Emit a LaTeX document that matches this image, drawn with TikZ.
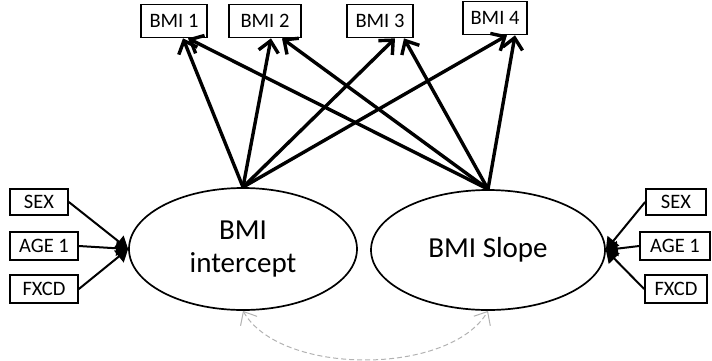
\documentclass[tikz,border=0pt]{standalone}
\usepackage{fontspec}
\setmainfont{Carlito}
\usetikzlibrary{arrows.meta,calc,shapes.geometric}
\tikzset{
  obs/.style={draw, line width=1.7pt, minimum height=33pt, inner sep=1pt, font=\fontsize{20.5}{23}\selectfont},
  latent/.style={draw, ellipse, line width=1.7pt, inner sep=0pt, align=center, font=\fontsize{29}{33}\selectfont},
  load/.style={line width=3.4pt, -{Straight Barb[length=11pt,width=20pt,line width=3.4pt]}},
  cov/.style={line width=2pt, -{Triangle[length=12pt,width=15pt]}},
  corr/.style={draw=gray!60, line width=1pt, dash pattern=on 5pt off 3pt,
    {Straight Barb[length=11pt,width=19pt,line width=1pt]}-{Straight Barb[length=11pt,width=19pt,line width=1pt]}}
}
\begin{document}
\begin{tikzpicture}[x=1pt,y=-1pt]
\useasboundingbox (0,0) rectangle (712,360);
% indicators
\node[obs, minimum width=66pt] (b1) at (174,21) {BMI 1};
\node[obs, minimum width=72pt] (b2) at (265,21) {BMI 2};
\node[obs, minimum width=66pt] (b3) at (380,21) {BMI 3};
\node[obs, minimum width=64pt] (b4) at (495,18) {BMI 4};
% growth factors
\node[latent, minimum width=228pt, minimum height=122pt] (li) at (243,249) {BMI\\intercept};
\node[latent, minimum width=234pt, minimum height=120pt] (ls) at (488,250) {BMI Slope};
% covariates, left
\node[obs, minimum width=58pt, minimum height=26pt] (sexL) at (39,202) {SEX};
\node[obs, minimum width=68pt, minimum height=28pt] (ageL) at (44,246) {AGE 1};
\node[obs, minimum width=68pt, minimum height=28pt] (fxL) at (44,289) {FXCD};
% covariates, right
\node[obs, minimum width=60pt, minimum height=26pt] (sexR) at (676,202) {SEX};
\node[obs, minimum width=70pt, minimum height=28pt] (ageR) at (675,246) {AGE 1};
\node[obs, minimum width=62pt, minimum height=28pt] (fxR) at (676,289) {FXCD};
% loadings
\draw[load] (li.north) -- ($(b1.south)+(9,0)$);
\draw[load] (li.north) -- ($(b2.south)+(6,0)$);
\draw[load] (li.north) -- ($(b3.south)+(15,0)$);
\draw[load] (li.north) -- ($(b4.south)+(12,0)$);
\draw[load] (ls.north) -- ($(b1.south)+(14,0)$);
\draw[load] (ls.north) -- ($(b2.south)+(17,0)$);
\draw[load] (ls.north) -- ($(b3.south)+(24,0)$);
\draw[load] (ls.north) -- ($(b4.south)+(20,0)$);
% covariate paths
\draw[cov] (sexL.east) -- (li.west);
\draw[cov] (ageL.east) -- (li.west);
\draw[cov] (fxL.east) -- (li.west);
\draw[cov] (sexR.west) -- (ls.east);
\draw[cov] (ageR.west) -- (ls.east);
\draw[cov] (fxR.west) -- (ls.east);
% intercept-slope covariance
\draw[corr] (li.south) .. controls (280,376) and (450,376) .. (ls.south);
\end{tikzpicture}
\end{document}
